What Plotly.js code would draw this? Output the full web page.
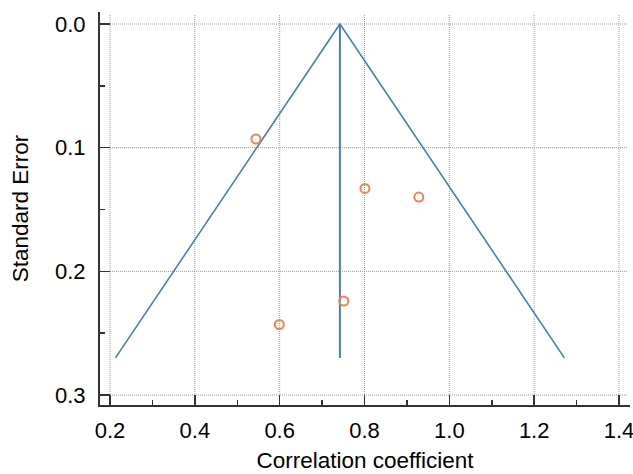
<!DOCTYPE html>
<html>
<head>
<meta charset="utf-8">
<script src="https://cdn.plot.ly/plotly-3.0.1.min.js"></script>
<style>html,body{margin:0;padding:0;background:#fff;}#chart{width:633px;height:474px;}</style>
</head>
<body>
<div id="chart"></div>
<script>
// Study estimates
const corr = [0.544, 0.801, 0.928, 0.751, 0.599];
const stdErr = [0.093, 0.133, 0.140, 0.224, 0.243];
// Pooled estimate and funnel limits
const pooled = 0.742;
const funnelSE = [0.27, 0, 0.27];
const funnelX = [pooled - 1.96 * 0.27, pooled, pooled + 1.96 * 0.27];
const centerX = [pooled, pooled];
const centerSE = [0, 0.27];
// Ticks
const xTicks = [0.2, 0.4, 0.6, 0.8, 1.0, 1.2, 1.4];
const xTickLabels = ['0.2', '0.4', '0.6', '0.8', '1.0', '1.2', '1.4'];
const yTicks = [0.0, 0.1, 0.2, 0.3];
const yTickLabels = ['0.0', '0.1', '0.2', '0.3'];

const xRange = [0.1764, 1.4259];
const yRange = [0.3081, -0.0097];
const gridXEnd = 1.4212, gridYTop = -0.0073;

const blue = '#4a7ebb';
const orange = '#f7814b';

const traces = [
  {x: funnelX, y: funnelSE, mode: 'lines', line: {color: blue, width: 1.6}, hoverinfo: 'skip'},
  {x: centerX, y: centerSE, mode: 'lines', line: {color: blue, width: 2}, hoverinfo: 'skip'},
  {x: corr, y: stdErr, mode: 'markers', marker: {symbol: 'circle-open', size: 9, color: orange, line: {width: 2, color: orange}}}
];

const shapes = [];
xTicks.forEach(v => shapes.push({type: 'line', xref: 'x', yref: 'y', x0: v, x1: v, y0: gridYTop, y1: yTicks[yTicks.length-1], line: {color: '#9a9a9a', width: 1, dash: '1px,1px'}, layer: 'below'}));
yTicks.forEach(v => shapes.push({type: 'line', xref: 'x', yref: 'y', x0: xTicks[0], x1: gridXEnd, y0: v, y1: v, line: {color: '#9a9a9a', width: 1, dash: '1px,1px'}, layer: 'below'}));

const font = {family: 'Arial, "Liberation Sans", sans-serif', color: '#000'};

const layout = {
  width: 633, height: 474,
  margin: {l: 100, r: 3, t: 12, b: 69},
  paper_bgcolor: '#fff', plot_bgcolor: '#fff',
  showlegend: false,
  shapes: shapes,
  xaxis: {
    range: xRange, tickmode: 'array', tickvals: xTicks, ticktext: xTickLabels,
    showgrid: false, zeroline: false, showline: true, linecolor: '#333', linewidth: 2,
    ticks: 'inside', ticklen: 10, tickwidth: 1.5, tickcolor: '#333',
    minor: {dtick: 0.1, tick0: 0.1, ticks: 'inside', ticklen: 5, tickwidth: 1.5, tickcolor: '#333', showgrid: false},
    tickfont: Object.assign({size: 22}, font),
    ticklabelstandoff: 5,
    ticklabeloverflow: 'allow',
    title: {text: 'Correlation coefficient', font: Object.assign({size: 22.5}, font), standoff: 10}
  },
  yaxis: {
    range: yRange, tickmode: 'array', tickvals: yTicks, ticktext: yTickLabels,
    showgrid: false, zeroline: false, showline: true, linecolor: '#333', linewidth: 2,
    ticks: 'inside', ticklen: 10, tickwidth: 1.5, tickcolor: '#333',
    minor: {dtick: 0.05, tick0: 0.05, ticks: 'inside', ticklen: 5, tickwidth: 1.5, tickcolor: '#333', showgrid: false},
    tickfont: Object.assign({size: 22}, font),
    ticklabelstandoff: 8,
    ticklabeloverflow: 'allow',
    title: {text: 'Standard Error', font: Object.assign({size: 22.5}, font), standoff: 20}
  }
};

Plotly.newPlot('chart', traces, layout, {displayModeBar: false, staticPlot: true});
</script>
</body>
</html>
